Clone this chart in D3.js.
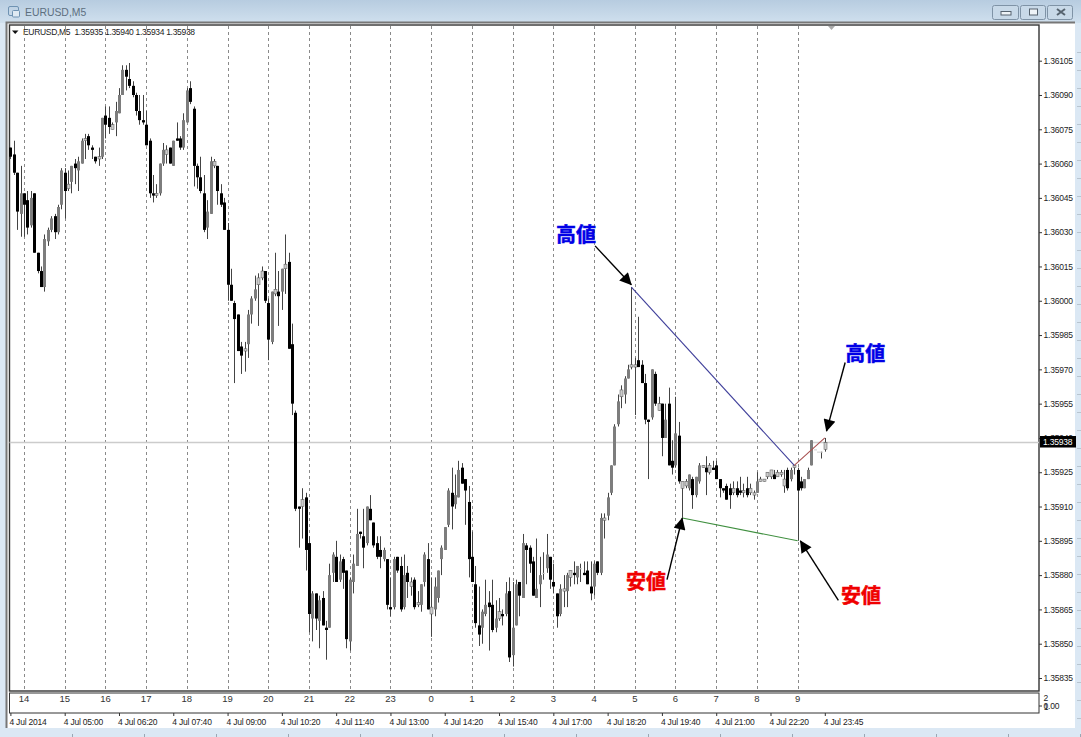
<!DOCTYPE html>
<html lang="en">
<head>
<meta charset="UTF-8">
<title>EURUSD,M5</title>
<style>
html,body{margin:0;padding:0;background:#fff;overflow:hidden;}
svg{display:block;}
text{font-family:"Liberation Sans",sans-serif;}
.axis text{font-size:8.5px;fill:#222;letter-spacing:-.2px;}
.axis line{stroke:#333;}
.hours text{font-size:9.5px;fill:#333;letter-spacing:0;}
.note{font-family:"Noto Sans CJK JP",sans-serif;font-weight:700;font-size:20px;text-anchor:middle;dominant-baseline:central;stroke-width:.5px;}
</style>
</head>
<body>
<div id="graph"></div>
<script src="https://d3js.org/d3.v7.min.js"></script>
<script>
// prices are the last five digits: 36105 means 1.36105
const open = [
36067,36064,36056,36038,36047,36044,36033,36047,36021,36013,
36006,36026,36031,36037,36030,36042,36056,36049,36052,36060,
36057,36060,36070,36072,36067,36063,36062,36063,36081,36080,
36075,36078,36082,36090,36101,36097,36094,36090,36083,36079,
36077,36070,36047,36046,36047,36060,36064,36067,36059,36071,
36071,36067,36078,36093,36084,36059,36054,36047,36032,36038,
36059,36059,36047,36043,36031,36007,35999,35994,35980,35978,
35981,35994,36001,36007,36010,36013,35999,35982,36003,36004,
36004,36014,36017,35981,35951,35910,35910,35914,35894,35861,
35872,35860,35870,35857,35857,35881,35888,35878,35887,35882,
35851,35877,35884,35899,35897,35894,35909,35903,35894,35891,
35887,35887,35866,35866,35888,35884,35866,35881,35875,35878,
35867,35867,35877,35887,35863,35865,35870,35887,35891,35902,
35916,35911,35914,35927,35922,35912,35888,35876,35858,35857,
35863,35868,35867,35857,35861,35863,35863,35873,35845,35858,
35877,35870,35893,35892,35886,35870,35876,35881,35883,35888,
35877,35872,35863,35873,35873,35879,35881,35879,35883,35881,
35882,35875,35875,35886,35881,35904,35906,35916,35928,35946,
35958,35959,35966,35971,35971,35974,35972,35964,35948,35949,
35968,35952,35955,35940,35955,35930,35928,35941,35918,35919,
35918,35922,35915,35921,35927,35927,35925,35927,35928,35922,
35918,35919,35918,35916,35918,35917,35916,35918,35916,35915,
35916,35921,35921,35923,35923,35924,35923,35924,35919,35926,
35922,35927,35926,35921,35918,35922,35928,35935,35934,35934,
35935];
const high = [
36067,36070,36056,36059,36047,36048,36048,36047,36021,36015,
36029,36032,36037,36038,36042,36058,36058,36057,36059,36062,
36063,36071,36073,36073,36068,36063,36067,36080,36085,36085,
36078,36087,36093,36103,36103,36104,36096,36091,36090,36090,
36083,36071,36055,36051,36060,36069,36068,36067,36070,36078,
36072,36082,36093,36096,36085,36060,36063,36055,36044,36063,
36062,36059,36051,36045,36034,36014,36000,35994,35982,35982,
35996,36002,36011,36012,36015,36013,36001,36004,36021,36013,
36014,36029,36021,35990,35952,35910,35918,35916,35897,35873,
35872,35871,35873,35860,35885,35890,35895,35889,35888,35882,
35879,35889,35909,35899,35909,35910,35915,35903,35897,35897,
35892,35887,35879,35888,35888,35888,35889,35884,35879,35879,
35873,35876,35890,35894,35879,35879,35882,35893,35901,35918,
35927,35924,35930,35929,35922,35919,35899,35884,35875,35865,
35878,35873,35878,35869,35870,35865,35877,35879,35877,35878,
35877,35898,35894,35893,35888,35896,35888,35890,35898,35888,
35885,35872,35876,35880,35881,35882,35886,35884,35885,35886,
35886,35886,35886,35886,35907,35907,35916,35928,35946,35959,
35963,35967,35972,36006,35975,35993,35974,35968,35948,35970,
35969,35958,35955,35955,35962,35939,35958,35947,35921,35922,
35924,35923,35923,35929,35928,35932,35929,35930,35930,35922,
35918,35920,35920,35921,35921,35923,35920,35923,35920,35917,
35925,35923,35922,35925,35926,35926,35926,35926,35926,35927,
35927,35928,35927,35923,35922,35927,35939,35935,35934,35934,
35940];
const low = [
36062,36055,36031,36028,36028,36029,36032,36021,36012,36006,
36004,36024,36030,36027,36029,36040,36036,36048,36047,36051,
36048,36060,36062,36066,36062,36060,36059,36062,36071,36073,
36075,36072,36082,36090,36092,36093,36089,36081,36077,36077,
36068,36045,36043,36045,36046,36059,36060,36060,36059,36070,
36066,36066,36078,36086,36050,36049,36047,36030,36027,36038,
36058,36042,36041,36031,36000,36000,35964,35978,35968,35969,
35975,35990,36000,35989,36009,35999,35974,35981,36002,35989,
35996,36003,35979,35950,35908,35892,35896,35882,35855,35851,
35856,35848,35858,35843,35857,35877,35877,35877,35874,35848,
35847,35872,35884,35896,35883,35893,35904,35892,35887,35883,
35886,35865,35862,35865,35881,35864,35865,35870,35871,35865,
35866,35864,35875,35865,35853,35862,35868,35880,35891,35901,
35900,35909,35914,35920,35902,35879,35877,35857,35849,35850,
35862,35847,35855,35855,35860,35858,35862,35842,35840,35858,
35862,35870,35876,35881,35871,35870,35866,35878,35881,35874,
35872,35857,35862,35866,35866,35875,35876,35876,35877,35880,
35876,35869,35871,35880,35880,35896,35904,35915,35928,35945,
35953,35955,35966,35970,35950,35971,35964,35946,35922,35948,
35954,35952,35932,35940,35928,35924,35927,35920,35905,35918,
35917,35909,35914,35920,35927,35915,35924,35926,35922,35914,
35916,35913,35909,35915,35914,35915,35914,35914,35915,35913,
35916,35921,35921,35922,35922,35922,35923,35923,35916,35917,
35921,35924,35895,35917,35918,35922,35928,35935,35934,35931,
35934];
const close = [
36063,36056,36039,36047,36042,36032,36045,36021,36013,36006,
36027,36031,36036,36030,36041,36057,36048,36051,36059,36058,
36061,36070,36071,36068,36066,36061,36063,36080,36077,36076,
36077,36083,36090,36101,36098,36094,36090,36083,36079,36078,
36068,36047,36046,36047,36060,36066,36066,36060,36070,36070,
36067,36079,36092,36087,36059,36054,36048,36031,36039,36061,
36061,36048,36042,36031,36007,36000,35992,35978,35976,35979,
35994,36001,36005,36010,36013,36000,35983,36004,36005,36002,
36014,36016,35979,35955,35909,35909,35913,35891,35863,35872,
35861,35869,35858,35856,35880,35889,35877,35886,35881,35852,
35878,35885,35898,35898,35892,35910,35904,35893,35888,35888,
35891,35867,35865,35887,35882,35865,35880,35877,35877,35866,
35868,35876,35889,35865,35866,35875,35882,35892,35901,35917,
35910,35915,35926,35920,35917,35887,35877,35859,35854,35864,
35867,35866,35856,35861,35864,35862,35872,35844,35857,35876,
35871,35894,35891,35885,35871,35874,35880,35881,35889,35878,
35875,35862,35874,35874,35880,35882,35880,35884,35883,35880,
35876,35872,35885,35881,35905,35905,35914,35928,35945,35956,
35961,35966,35970,35972,35972,35971,35964,35948,35947,35970,
35955,35955,35940,35948,35928,35927,35942,35921,35921,35921,
35924,35915,35923,35928,35928,35925,35928,35926,35922,35918,
35917,35913,35915,35918,35915,35916,35917,35915,35918,35916,
35921,35922,35922,35925,35926,35922,35925,35925,35922,35918,
35926,35928,35917,35918,35922,35926,35939,35935,35934,35934,
35938];

const priceTicks = [36105,36090,36075,36060,36045,36030,36015,36000,35985,35970,35955,35940,35925,35910,35895,35880,35865,35850,35835];
const hourLabels = ["14","15","16","17","18","19","20","21","22","23","0","1","2","3","4","5","6","7","8","9"];
const timeLabels = ["4 Jul 2014","4 Jul 05:00","4 Jul 06:20","4 Jul 07:40","4 Jul 09:00","4 Jul 10:20","4 Jul 11:40","4 Jul 13:00","4 Jul 14:20","4 Jul 15:40","4 Jul 17:00","4 Jul 18:20","4 Jul 19:40","4 Jul 21:00","4 Jul 22:20","4 Jul 23:45"];
const header = "EURUSD,M5  1.35935 1.35940 1.35934 1.35938";

// trend lines as [bar, price] pairs
const trendHigh = [[183,36006],[231,35928]];
const trendLow = [[198,35905],[232,35895]];
const trendLast = [[231,35928],[240,35940]];
// arrows from [bar, price] to [bar, price]
const arrows = [
    [[172.3,36024],[183,36007]],
    [[246,35973],[240.5,35943]],
    [[193.5,35878],[198,35905]],
    [[244,35869],[232.8,35895]]
];
const noteBars = [166.7,251.9,187.3,250.7];
const notePrices = [36029,35977,35877,35871];
const noteTexts = ["高値","高値","安値","安値"];

const width = 1081, height = 737;
const chartLeft = 9.5, chartRight = 1039, chartTop = 25, chartBottom = 691, subTop = 693, subBottom = 713;

const xScale = d3.scaleLinear().domain([0,240]).range([10.4,824.8]);
const yScale = d3.scaleLinear().domain([36105,35835]).range([60.7,678]);
const px = v => Math.round(xScale(v)) + 0.5;

const svg = d3.select("#graph").append("svg").attr("width",width).attr("height",height);
const defs = svg.append("defs");
const grad = defs.append("linearGradient").attr("id","titleBar").attr("x1",0).attr("x2",0).attr("y1",0).attr("y2",1);
grad.append("stop").attr("offset","0%").attr("stop-color","#b7cce0");
grad.append("stop").attr("offset","100%").attr("stop-color","#d0e0ee");
defs.append("marker").attr("id","head").attr("viewBox","0 0 10 10").attr("refX",9.5).attr("refY",5)
    .attr("markerUnits","userSpaceOnUse").attr("markerWidth",13).attr("markerHeight",12).attr("orient","auto")
    .append("path").attr("d","M0,0L10,5L0,10Z").attr("fill","#000");

drawWindow();
drawGrid();
drawCandles();
drawAxes();
drawNotes();

function drawWindow() {
    svg.append("rect").attr("width",width).attr("height",height).attr("fill","#dbe8f4");
    svg.append("rect").attr("width",width).attr("height",23).attr("fill","url(#titleBar)");
    svg.append("rect").attr("x",7).attr("y",23).attr("width",1068).attr("height",705).attr("fill","#fff");
    svg.append("path").attr("d","M6.5,728V22.5H1075").attr("fill","none").attr("stroke","#777").attr("stroke-width",2);

    // bits of the windows behind this one
    svg.selectAll(".backTick").data(d3.range(72,1081,72)).join("rect")
        .attr("x",d=>d).attr("y",734).attr("width",1).attr("height",3).attr("fill","#9aa7b3");
    svg.selectAll(".sideTick").data(d3.range(52,728,18)).join("rect")
        .attr("x",1077).attr("y",d=>d).attr("width",4).attr("height",1).attr("fill","#b8c4cf");

    // icon
    const icon = svg.append("g").attr("fill","none").attr("stroke","#6f93b3");
    icon.append("rect").attr("x",8.5).attr("y",6.5).attr("width",10).attr("height",9).attr("rx",1.5);
    icon.append("rect").attr("x",12.5).attr("y",10.5).attr("width",7).attr("height",6.5).attr("rx",1).attr("fill","#dfeaf3");
    svg.append("text").attr("x",25).attr("y",16).attr("font-size",10.4).attr("fill","#5d6f80").text("EURUSD,M5");

    // window buttons
    const btnX = [993,1021,1048];
    const btn = svg.selectAll(".btn").data(btnX).join("rect")
        .attr("x",d=>d-0.5).attr("y",5.5).attr("width",(d,i)=>i==0?26:25).attr("height",14).attr("rx",2)
        .attr("fill","#c8d9e8").attr("stroke","#7f93a6");
    svg.append("rect").attr("x",1001).attr("y",11.5).attr("width",10).attr("height",3.5).attr("fill","#eef3f7").attr("stroke","#56636f");
    svg.append("rect").attr("x",1029.5).attr("y",9).attr("width",8).attr("height",6).attr("fill","#eef3f7").attr("stroke","#56636f");
    svg.append("path").attr("d","M1057,9L1065,15M1065,9L1057,15").attr("stroke","#56636f").attr("stroke-width",2);

    svg.append("rect").attr("x",chartLeft).attr("y",chartTop).attr("width",chartRight-chartLeft).attr("height",chartBottom-chartTop)
        .attr("fill","#fff").attr("stroke","#333").attr("stroke-width",1.4);
    svg.append("rect").attr("x",chartLeft).attr("y",subTop).attr("width",chartRight-chartLeft).attr("height",subBottom-subTop)
        .attr("fill","#fff").attr("stroke","#333").attr("stroke-width",1);

    svg.append("path").attr("d","M12,30.5H18.5L15.2,34Z").attr("fill","#111");
    svg.append("text").attr("x",23).attr("y",35).attr("font-size",8.5).attr("letter-spacing","-.31px").attr("fill","#222")
        .attr("xml:space","preserve").style("white-space","pre").text(header);
    svg.append("path").attr("d","M828,26H835L831.5,30Z").attr("fill","#aaa");
}

function drawGrid() {
    const bars = hourLabels.map((d,i)=>4+i*12);
    svg.append("g").selectAll("line").data(bars).join("line")
        .attr("x1",d=>px(d)).attr("x2",d=>px(d)).attr("y1",chartTop+1).attr("y2",chartBottom-1)
        .attr("stroke","#8a8a8a").attr("stroke-dasharray","3 3");
    svg.append("line").attr("x1",chartLeft).attr("x2",chartRight)
        .attr("y1",yScale(close[close.length-1])).attr("y2",yScale(close[close.length-1]))
        .attr("stroke","#ccc").attr("stroke-width",1.6);
}

function drawCandles() {
    const g = svg.append("g").style("filter","blur(.25px)");
    const bars = d3.range(open.length);
    const bodyHeight = i => Math.abs(yScale(open[i])-yScale(close[i]));
    g.selectAll(".wick").data(bars).join("line")
        .attr("x1",px).attr("x2",px)
        .attr("y1",i=>yScale(high[i])).attr("y2",i=>yScale(low[i]))
        .attr("stroke","#444");
    g.selectAll(".body").data(bars).join("rect")
        .attr("x",i=>px(i)-1.5).attr("width",3)
        .attr("y",i=>yScale(Math.max(open[i],close[i])))
        .attr("height",i=>Math.max(1,bodyHeight(i)))
        .attr("fill",i=>{
            if (close[i]<open[i]) return "#000";
            return bodyHeight(i)<7 ? "#ccc" : "#7d7d7d";
        })
        .attr("stroke",i=>bodyHeight(i)<7 && close[i]>open[i] ? "#555" : "none")
        .attr("stroke-width",.5);

    // trend lines hang off the candles
    const line = d3.line().x(d=>xScale(d[0])).y(d=>yScale(d[1]));
    g.append("path").attr("d",line(trendHigh)).attr("fill","none").attr("stroke","#3f3f9a").attr("stroke-width",1.1);
    g.append("path").attr("d",line(trendLow)).attr("fill","none").attr("stroke","#3f8f3f").attr("stroke-width",1.1);
    g.append("path").attr("d",line(trendLast)).attr("fill","none").attr("stroke","#a85050").attr("stroke-width",1.1);
}

function drawAxes() {
    const priceAxis = d3.axisRight(yScale).tickValues(priceTicks).tickSize(3).tickPadding(1.5)
        .tickFormat(d=>(1+d/100000).toFixed(5));
    svg.append("g").attr("class","axis").attr("transform",`translate(${chartRight},0)`).call(priceAxis)
        .call(g=>g.select(".domain").remove());

    // hour labels in the sub window
    const hourAxis = d3.axisBottom(xScale).tickValues(hourLabels.map((d,i)=>4+i*12)).tickSize(0).tickPadding(2)
        .tickFormat((d,i)=>hourLabels[i]);
    svg.append("g").attr("class","axis hours").attr("transform",`translate(-0.5,${subTop})`).call(hourAxis)
        .call(g=>g.select(".domain").remove());

    const subAxis = svg.append("g").attr("class","axis");
    subAxis.append("text").attr("x",1043.5).attr("y",701).text("2");
    subAxis.append("text").attr("x",1043.5).attr("y",709).text("0.00");
    subAxis.append("text").attr("x",1043.8).attr("y",710).text("1");
    subAxis.append("line").attr("x1",1039).attr("x2",1042).attr("y1",706).attr("y2",706);

    const timeAxis = d3.axisBottom(xScale).tickValues(timeLabels.map((d,i)=>i*16)).tickSize(3).tickPadding(3)
        .tickFormat((d,i)=>timeLabels[i]);
    svg.append("g").attr("class","axis").attr("transform",`translate(0,${subBottom})`).call(timeAxis)
        .call(g=>g.select(".domain").remove())
        .call(g=>g.selectAll("text").attr("text-anchor","start").attr("dx",-1.5));

    // current price tag
    const last = yScale(close[close.length-1]);
    svg.append("rect").attr("x",1040).attr("y",last-6.5).attr("width",36).attr("height",11.5).attr("fill","#000");
    svg.append("text").attr("x",1043).attr("y",last+2).attr("font-size",8.5).attr("letter-spacing","-.2px").attr("fill","#fff")
        .text((1+close[close.length-1]/100000).toFixed(5));
}

function drawNotes() {
    svg.append("g").selectAll("line").data(arrows).join("line")
        .attr("x1",d=>xScale(d[0][0])).attr("y1",d=>yScale(d[0][1]))
        .attr("x2",d=>xScale(d[1][0])).attr("y2",d=>yScale(d[1][1]))
        .attr("stroke","#000").attr("stroke-width",1.4).attr("marker-end","url(#head)");
    svg.append("g").selectAll("text").data(noteTexts).join("text")
        .attr("class","note")
        .attr("x",(d,i)=>xScale(noteBars[i])).attr("y",(d,i)=>yScale(notePrices[i])-1)
        .attr("fill",d=>d=="高値" ? "#0000e6" : "#f00000")
        .attr("stroke",d=>d=="高値" ? "#0000e6" : "#f00000")
        .text(d=>d);
}
</script>
</body>
</html>
